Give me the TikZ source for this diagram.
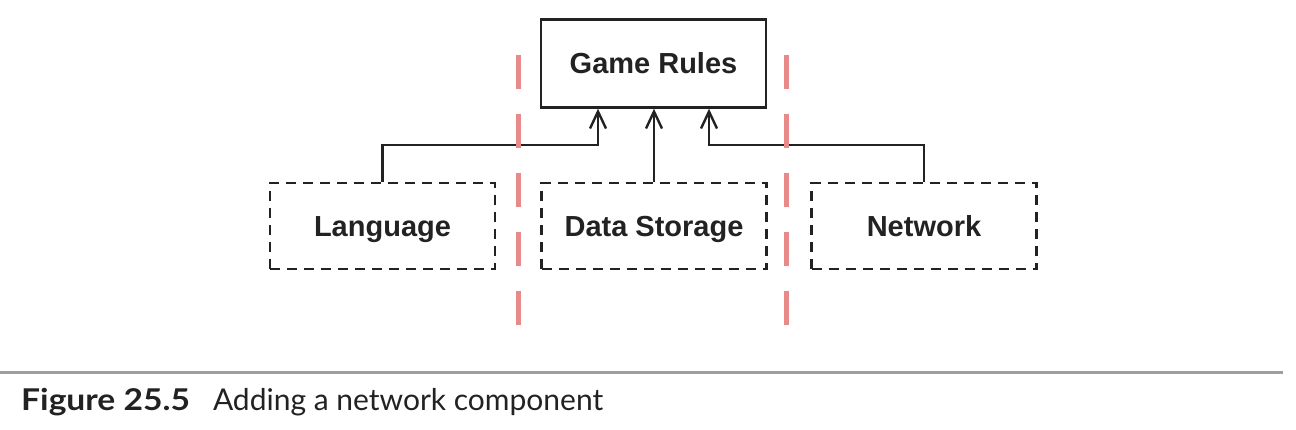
\documentclass[tikz,border=0pt]{standalone}
\usepackage{fontspec}
\setmainfont{Liberation Sans}
\newfontfamily\capfont{Lato}[BoldFeatures={FakeStretch=1.12}]
\usetikzlibrary{arrows.meta}
\definecolor{sepred}{HTML}{E8898A}
\definecolor{ink}{HTML}{222222}
\begin{document}
\begin{tikzpicture}[x=1pt,y=-1pt,
  box/.style={draw=ink, line width=2.4pt, minimum width=225pt, minimum height=88pt,
    font=\fontsize{29}{32}\selectfont\bfseries, inner sep=0pt, text=ink,
    text height=21pt, text depth=0pt},
  dbox/.style={box, dash pattern=on 10pt off 7pt},
  conn/.style={line width=2.4pt, draw=ink, -{Straight Barb[length=17pt,width=16pt,line width=2.4pt]}},
  sepline/.style={draw=sepred, line width=5pt, dash pattern=on 34pt off 25pt},
  rulebar/.style={draw=black!38, line width=3pt},
  captext/.style={anchor=base west, inner sep=0pt, font=\capfont\fontsize{30}{34}\selectfont, text=ink}]
\useasboundingbox (0,0) rectangle (1296,430);
\node[box] (rules) at (653.5,63.5) {Game Rules};
\node[dbox, minimum height=86pt] (lang) at (382.5,226) {Language};
\node[dbox, minimum height=86pt] (data) at (654,226) {Data Storage};
\node[dbox, minimum height=86pt] (net) at (924,226) {Network};
\coordinate (k1) at (598,145);
\coordinate (k3) at (709,145);
\draw[conn] (lang.north) -- (lang.north |- k1) -- (k1) -- (k1 |- rules.south);
\draw[conn] (data.north) -- (data.north |- rules.south);
\draw[conn] (net.north) -- (net.north |- k3) -- (k3) -- (k3 |- rules.south);
\coordinate (s1t) at (518,55);
\coordinate (s1b) at (518,326);
\coordinate (s2t) at (786,55);
\coordinate (s2b) at (786,326);
\draw[sepline] (s1t) -- (s1b);
\draw[sepline] (s2t) -- (s2b);
\coordinate (r1) at (0,372);
\coordinate (r2) at (1283,372);
\draw[rulebar] (r1) -- (r2);
\node[captext] (cap) at (21,410) {\textbf{Figure 25.5}\hspace{23pt}Adding a network component};
\end{tikzpicture}
\end{document}
